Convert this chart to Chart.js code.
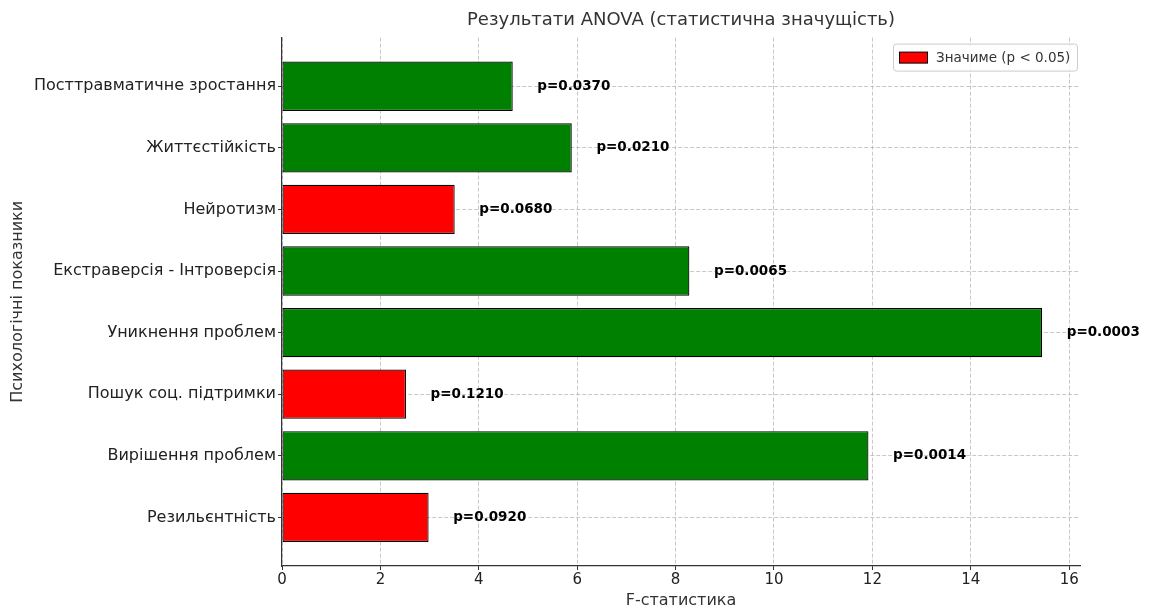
<!DOCTYPE html>
<html>
<head>
<meta charset="utf-8">
<script src="https://cdn.jsdelivr.net/npm/chart.js@4/dist/chart.umd.min.js"></script>
<style>
  html, body { margin: 0; padding: 0; background: #fff; }
  #wrap { width: 1152px; height: 610px; }
</style>
</head>
<body>
<div id="wrap"><canvas id="anovaChart"></canvas></div>
<script>
// order bottom -> top, as in the source plot
const categories = [
  'Резильєнтність',
  'Вирішення проблем',
  'Пошук соц. підтримки',
  'Уникнення проблем',
  'Екстраверсія - Інтроверсія',
  'Нейротизм',
  'Життєстійкість',
  'Посттравматичне зростання'
];
const fValues = [2.98, 11.92, 2.52, 15.45, 8.28, 3.51, 5.89, 4.69];
const pValues = [0.0920, 0.0014, 0.1210, 0.0003, 0.0065, 0.0680, 0.0210, 0.0370];
const xTicks = [0, 2, 4, 6, 8, 10, 12, 14, 16];

const FONT = "'DejaVu Sans', sans-serif";

const barColors = pValues.map(p => p < 0.05 ? '#008000' : '#ff0000');

const pLabels = {
  id: 'pLabels',
  afterDatasetsDraw(chart) {
    const ctx = chart.ctx;
    const xs = chart.scales.x, ys = chart.scales.y;
    ctx.save();
    ctx.font = 'bold 13.5px ' + FONT;
    ctx.fillStyle = '#000';
    ctx.textAlign = 'left';
    ctx.textBaseline = 'middle';
    fValues.forEach((v, i) => {
      ctx.fillText('p=' + pValues[i].toFixed(4), xs.getPixelForValue(v + 0.5), ys.getPixelForValue(i));
    });
    ctx.restore();
  }
};

const boxLegend = {
  id: 'boxLegend',
  afterDraw(chart) {
    const ctx = chart.ctx;
    const a = chart.chartArea;
    const w = 184, h = 27;
    const x = a.right - 3 - w, y = a.top + 6;
    ctx.save();
    ctx.fillStyle = 'rgba(255,255,255,0.8)';
    ctx.strokeStyle = '#cccccc';
    ctx.lineWidth = 1;
    ctx.beginPath();
    ctx.roundRect(x + 0.5, y + 0.5, w, h, 3);
    ctx.fill();
    ctx.stroke();
    ctx.fillStyle = '#ff0000';
    ctx.fillRect(x + 6.5, y + 8.5, 28, 11);
    ctx.strokeStyle = '#000';
    ctx.strokeRect(x + 6.5, y + 8.5, 28, 11);
    ctx.fillStyle = '#333';
    ctx.font = '13.5px ' + FONT;
    ctx.textBaseline = 'middle';
    ctx.fillText('Значиме (p < 0.05)', x + 43, y + h / 2 + 1);
    ctx.restore();
  }
};

new Chart(document.getElementById('anovaChart'), {
  type: 'bar',
  data: {
    datasets: [{
      label: 'Значиме (p < 0.05)',
      data: fValues.map((v, i) => ({ x: v, y: i })),
      backgroundColor: barColors,
      borderColor: '#000',
      borderWidth: 1.2,
      borderSkipped: false,
      categoryPercentage: 1,
      barPercentage: 0.8
    }]
  },
  options: {
    indexAxis: 'y',
    responsive: true,
    maintainAspectRatio: false,
    animation: false,
    layout: { padding: { top: 0, right: 72, bottom: 0, left: 0 } },
    plugins: {
      legend: { display: false },
      tooltip: { enabled: false },
      title: {
        display: true,
        fullSize: false,
        text: 'Результати ANOVA (статистична значущість)',
        color: '#333',
        font: { family: FONT, size: 18, weight: 'normal' },
        padding: { top: 10, bottom: 6 }
      }
    },
    scales: {
      x: {
        type: 'linear',
        min: 0,
        max: 16.22,
        z: 1,
        afterBuildTicks: s => { s.ticks = xTicks.map(v => ({ value: v })); },
        afterFit: s => { s.height = 44; },
        ticks: { color: '#222', font: { family: FONT, size: 15 }, padding: 1, maxRotation: 0 },
        grid: { color: 'rgba(176,176,176,0.7)', lineWidth: 1, tickLength: 4, tickColor: '#333' },
        border: { color: '#333', width: 1.2, dash: [4, 2] },
        title: { display: true, text: 'F-статистика', color: '#333', font: { family: FONT, size: 16 }, padding: { top: 0, bottom: 0 } }
      },
      y: {
        type: 'linear',
        min: -0.79,
        max: 7.79,
        offset: false,
        z: 1,
        afterBuildTicks: s => { s.ticks = categories.map((c, i) => ({ value: i })); },
        afterFit: s => { s.width = 282; },
        ticks: { color: '#222', font: { family: FONT, size: 16 }, padding: 2, callback: v => categories[v] },
        grid: { offset: false, color: 'rgba(176,176,176,0.7)', lineWidth: 1, tickLength: 4, tickColor: '#333' },
        border: { color: '#333', width: 1.2, dash: [4, 2] },
        title: { display: true, text: 'Психологічні показники', color: '#333', font: { family: FONT, size: 16 }, padding: { top: 8, bottom: 0 } }
      }
    }
  },
  plugins: [pLabels, boxLegend]
});
</script>
</body>
</html>
